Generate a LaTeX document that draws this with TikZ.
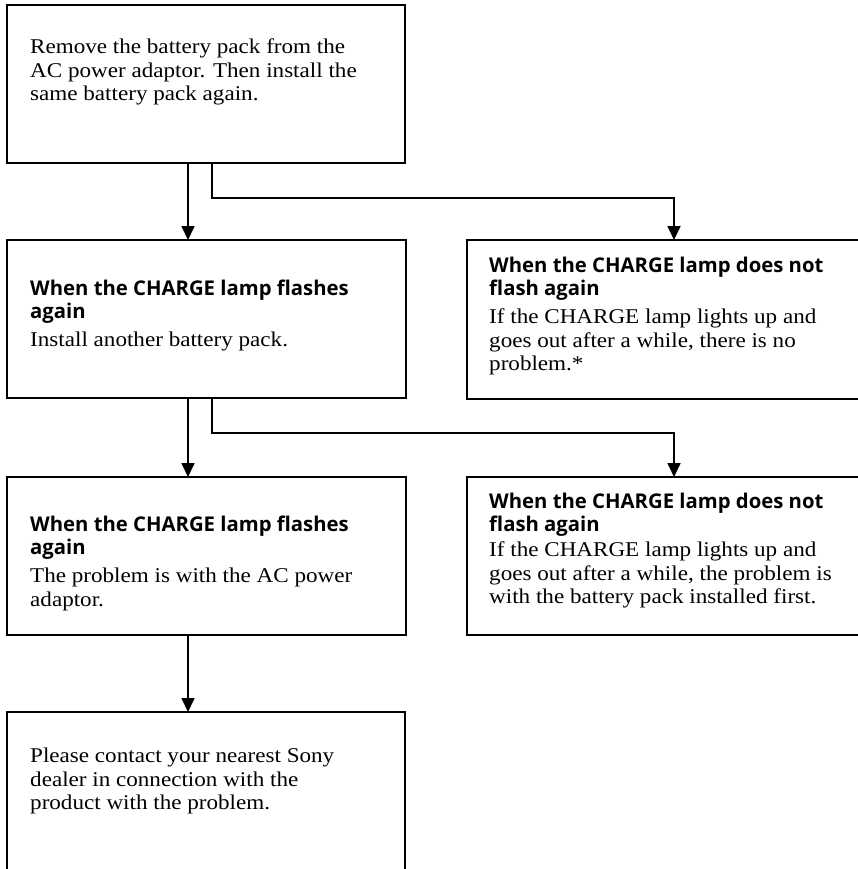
\documentclass[tikz,border=0pt]{standalone}
\usepackage{fontspec}
\setmainfont{Liberation Serif}[FakeStretch=1.1]
\newfontfamily\headfont{Open Sans}
\usetikzlibrary{arrows.meta}
\begin{document}
\begin{tikzpicture}[x=1pt,y=-1pt,
  boxline/.style={line width=1.7pt, line join=miter},
  boxnode/.style={anchor=north west, inner sep=0pt, outer sep=0pt},
  conn/.style={line width=1.7pt, -{Triangle[width=13pt,length=14pt]}},
  body/.style={anchor=north west, align=left, inner sep=0pt, font=\fontsize{21}{23.5}\selectfont},
  head/.style={anchor=north west, align=left, inner sep=0pt, font=\headfont\bfseries\fontsize{20.3}{23}\selectfont}]
\fill[white] (0,0) rectangle (858,869);
\useasboundingbox (0,0) rectangle (858,869);

% boxes
\node[boxnode, draw, boxline, minimum width=398pt, minimum height=158pt] (b1) at (7,5) {};
\node[boxnode, draw, boxline, minimum width=399pt, minimum height=158pt] (b2) at (7,240) {};
\node[boxnode, minimum width=391pt, minimum height=159pt] (b3) at (467,240) {};
\node[boxnode, draw, boxline, minimum width=399pt, minimum height=158pt] (b4) at (7,477) {};
\node[boxnode, minimum width=391pt, minimum height=158pt] (b5) at (467,477) {};
\node[boxnode, minimum width=398pt, minimum height=157pt] (b6) at (7,712) {};

\draw[boxline] (b3.north east) -- (b3.north west) -- (b3.south west) -- (b3.south east);
\draw[boxline] (b5.north east) -- (b5.north west) -- (b5.south west) -- (b5.south east);
\draw[boxline] (b6.south west) -- (b6.north west) -- (b6.north east) -- (b6.south east);

% texts
\node[body] (t1) at (30,39) {Remove the battery pack from the\\AC power adaptor. Then install the\\same battery pack again.};
\node[head] (h2) at (30,280) {When the CHARGE lamp flashes\\again};
\node[body] (t2) at (30,332) {Install another battery pack.};
\node[head] (h3) at (489,257) {When the CHARGE lamp does not\\flash again};
\node[body] (t3) at (489,309) {If the CHARGE lamp lights up and\\goes out after a while, there is no\\problem.*};
\node[head] (h4) at (30,516) {When the CHARGE lamp flashes\\again};
\node[body] (t4) at (30,568) {The problem is with the AC power\\adaptor.};
\node[head] (h5) at (489,493) {When the CHARGE lamp does not\\flash again};
\node[body] (t5) at (489,542) {If the CHARGE lamp lights up and\\goes out after a while, the problem is\\with the battery pack installed first.};
\node[body] (t6) at (30,748) {Please contact your nearest Sony\\dealer in connection with the\\product with the problem.};

% connector guides
\coordinate (xl) at (188,0);
\coordinate (xr) at (212,0);
\coordinate (xa) at (674,0);
\coordinate (y1) at (0,198);
\coordinate (y2) at (0,433);

\draw[conn] (xl |- b1.south) -- (xl |- b2.north);
\draw[conn] (xr |- b1.south) -- (xr |- y1) -| (xa |- b3.north);
\draw[conn] (xl |- b2.south) -- (xl |- b4.north);
\draw[conn] (xr |- b2.south) -- (xr |- y2) -| (xa |- b5.north);
\draw[conn] (xl |- b4.south) -- (xl |- b6.north);
\end{tikzpicture}
\end{document}
